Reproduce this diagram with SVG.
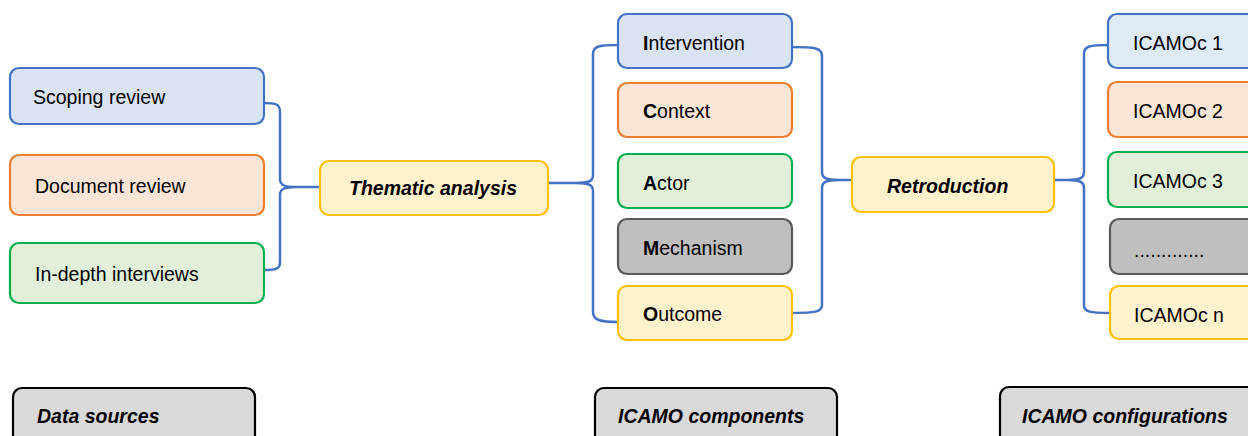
<svg xmlns="http://www.w3.org/2000/svg" width="1248" height="436" viewBox="0 0 1248 436">
<style>
text{font-family:"Liberation Sans",Arial,sans-serif;font-size:19.5px;fill:#000}
.bi{font-weight:bold;font-style:italic}
.b{font-weight:bold}
rect{stroke-width:2.2}
.blue{fill:#dae3f3;stroke:#4472c4}
.lblue{fill:#deebf7;stroke:#4472c4}
.orange{fill:#fbe5d6;stroke:#ed7d31}
.green{fill:#e2f0d9;stroke:#00b050}
.gray{fill:#bfbfbf;stroke:#595959}
.yellow{fill:#fff2cc;stroke:#ffc000}
.label{fill:#d9d9d9;stroke:#000}
.conn path{fill:none;stroke:#4472c4;stroke-width:2.5;stroke-linecap:round;stroke-linejoin:round}
</style>
<rect width="1248" height="436" fill="#fff" style="stroke:none"/>
<g class="conn" id="connectors">
<path d="M264,103 C276,103 280,104 280,112 L280,179 C280,185 284,187 296,187 L320,187 M296,187 C284,187 280,189 280,195 L280,262 C280,269 276,270 264,270"/>
<path d="M618,45 C600,45 593,46 593,54 L593,175 C593,181 589,183 576,183 L549,183 M576,183 C589,183 593,185 593,191 L593,312 C593,320 600,322 618,322"/>
<path d="M792,47 C815,47 822,48 822,56 L822,172 C822,178 826,180 839,180 L852,180 M839,180 C826,180 822,182 822,188 L822,305 C822,312 815,313 792,313"/>
<path d="M1108,45 C1090,45 1084,46 1084,54 L1084,172 C1084,178 1080,180 1067,180 L1054,180 M1067,180 C1080,180 1084,182 1084,188 L1084,305 C1084,312 1090,313 1110,313"/>
</g>
<g id="scoping"><rect class="blue" x="10" y="68" width="254" height="56" rx="9"/><text x="33" y="104">Scoping review</text></g>
<g id="document"><rect class="orange" x="10" y="155" width="254" height="60" rx="9"/><text x="35" y="193">Document review</text></g>
<g id="interviews"><rect class="green" x="10" y="243" width="254" height="60" rx="9"/><text x="35" y="281">In-depth interviews</text></g>
<g id="thematic"><rect class="yellow" x="320" y="161" width="228" height="54" rx="9"/><text class="bi" x="349" y="195">Thematic analysis</text></g>
<g id="intervention"><rect class="blue" x="618" y="14" width="174" height="54" rx="9"/><text x="643" y="50"><tspan class="b">I</tspan>ntervention</text></g>
<g id="context"><rect class="orange" x="618" y="83" width="174" height="54" rx="9"/><text x="643" y="118"><tspan class="b">C</tspan>ontext</text></g>
<g id="actor"><rect class="green" x="618" y="154" width="174" height="54" rx="9"/><text x="643" y="190"><tspan class="b">A</tspan>ctor</text></g>
<g id="mechanism"><rect class="gray" x="618" y="219" width="174" height="55" rx="9"/><text x="643" y="255"><tspan class="b">M</tspan>echanism</text></g>
<g id="outcome"><rect class="yellow" x="618" y="286" width="174" height="54" rx="9"/><text x="643" y="321"><tspan class="b">O</tspan>utcome</text></g>
<g id="retroduction"><rect class="yellow" x="852" y="157" width="202" height="55" rx="9"/><text class="bi" x="887" y="193" font-size="18.5">Retroduction</text></g>
<g id="icamoc1"><rect class="lblue" x="1108" y="14" width="160" height="54" rx="9"/><text x="1133" y="50">ICAMOc 1</text></g>
<g id="icamoc2"><rect class="orange" x="1108" y="82" width="160" height="55" rx="9"/><text x="1133" y="118">ICAMOc 2</text></g>
<g id="icamoc3"><rect class="green" x="1108" y="152" width="160" height="55" rx="9"/><text x="1133" y="188">ICAMOc 3</text></g>
<g id="icamocdots"><rect class="gray" x="1110" y="219" width="160" height="55" rx="9"/><text x="1134" y="257">.............</text></g>
<g id="icamocn"><rect class="yellow" x="1110" y="286" width="160" height="53" rx="9"/><text x="1134" y="322">ICAMOc n</text></g>
<g id="label-data"><rect class="label" x="13" y="388" width="242" height="70" rx="9"/><text class="bi" x="37" y="423">Data sources</text></g>
<g id="label-components"><rect class="label" x="595" y="388" width="242" height="70" rx="9"/><text class="bi" x="618" y="423">ICAMO components</text></g>
<g id="label-configurations"><rect class="label" x="1000" y="387" width="270" height="70" rx="9"/><text class="bi" x="1022" y="423">ICAMO configurations</text></g>
</svg>
